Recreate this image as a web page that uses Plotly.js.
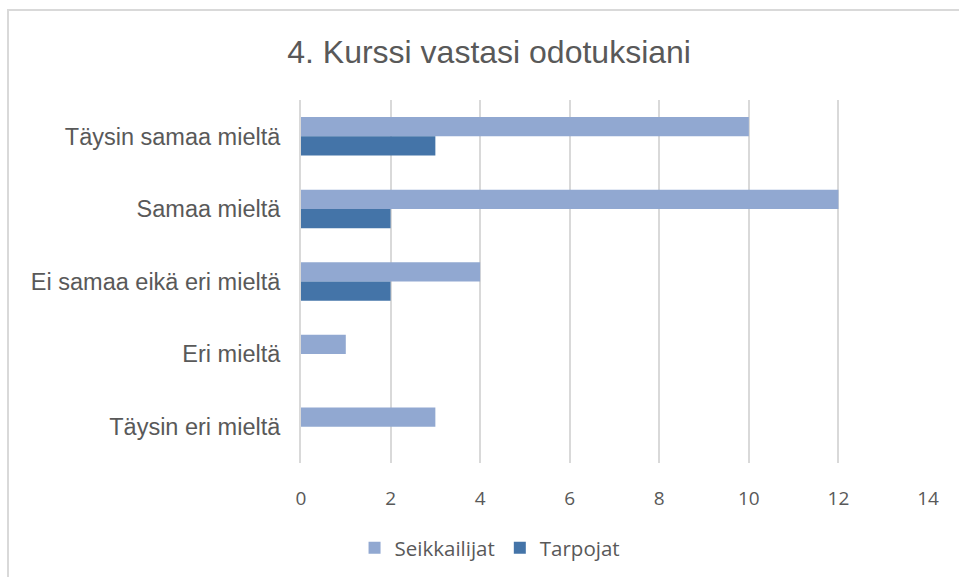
<!DOCTYPE html>
<html>
<head>
<meta charset="utf-8">
<script src="https://cdn.plot.ly/plotly-3.0.1.min.js"></script>
<style>
html,body{margin:0;padding:0;background:#fff;overflow:hidden;}
#frame{position:absolute;left:7px;top:9px;width:1000px;height:600px;border:2px solid #d9d9d9;box-sizing:border-box;}
#chart{position:absolute;left:0;top:0;width:959px;height:577px;}
</style>
</head>
<body>
<div id="frame"></div>
<div id="chart"></div>
<script>
const categories = ["Täysin samaa mieltä", "Samaa mieltä", "Ei samaa eikä eri mieltä", "Eri mieltä", "Täysin eri mieltä"];
const seikkailijat = [10, 12, 4, 1, 3];
const tarpojat = [3, 2, 2, 0, 0];
const xTicks = [0, 2, 4, 6, 8, 10, 12, 14];

const traces = [
  {type:'bar', orientation:'h', name:'Seikkailijat', y:categories, x:seikkailijat,
   marker:{color:'#91a8d1'}, hoverinfo:'x+y'},
  {type:'bar', orientation:'h', name:'Tarpojat', y:categories, x:tarpojat,
   marker:{color:'#4474a8'}, hoverinfo:'x+y'}
];

const layout = {
  width:959, height:577,
  paper_bgcolor:'rgba(0,0,0,0)', plot_bgcolor:'rgba(0,0,0,0)',
  margin:{l:301, r:31, t:100, b:114},
  barmode:'group', bargap:0.47, bargroupgap:0,
  title:{text:'4. Kurssi vastasi odotuksiani', font:{family:'Liberation Sans, Arial, sans-serif', size:32, color:'#595959'},
         xref:'container', x:0.51, xanchor:'center', yref:'container', y:1-52/577, yanchor:'middle'},
  xaxis:{range:[0,14], tickvals:xTicks, ticktext:xTicks.map(String), showgrid:true, gridcolor:'#d9d9d9', gridwidth:2,
         zeroline:false, showline:false, ticks:'', ticklabelstandoff:22,
         tickfont:{family:'Open Sans, Noto Sans, sans-serif', size:19, color:'#595959'}, fixedrange:true},
  yaxis:{type:'category', autorange:'reversed', showgrid:false, zeroline:false, showline:true, linecolor:'#d9d9d9', linewidth:2,
         ticks:'', ticklabelstandoff:14,
         tickfont:{family:'Liberation Sans, Arial, sans-serif', size:23.5, color:'#595959'}, fixedrange:true},
  showlegend:true,
  legend:{orientation:'h', xref:'container', x:0.511, xanchor:'center', yref:'container', y:1-548/577, yanchor:'middle',
          traceorder:'normal', font:{family:'Open Sans, Noto Sans, sans-serif', size:20.5, color:'#595959'}, itemwidth:30}
};

Plotly.newPlot('chart', traces, layout, {displayModeBar:false, staticPlot:true});
</script>
</body>
</html>
